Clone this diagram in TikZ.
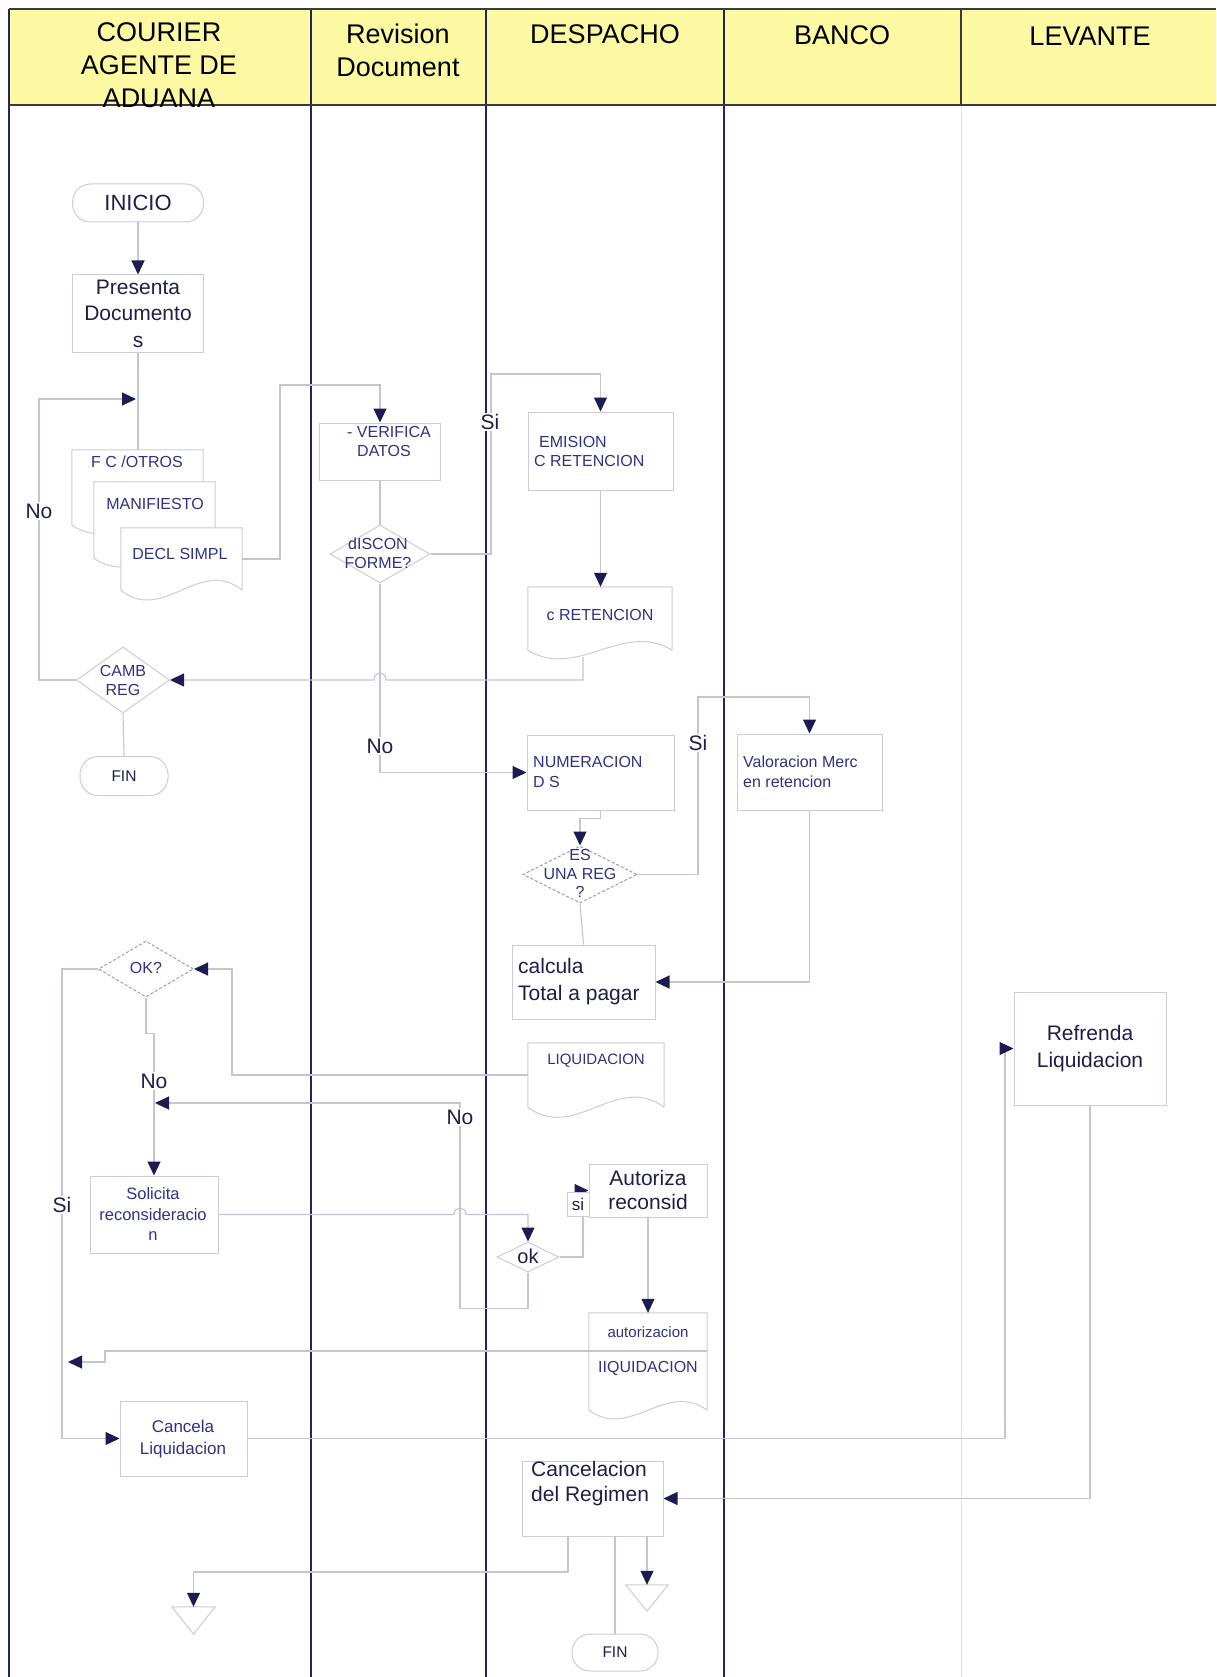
\documentclass[tikz,border=0pt]{standalone}
\usepackage{fontspec}
\setmainfont{Liberation Sans}
\usetikzlibrary{arrows.meta,shapes.geometric}
\definecolor{lanec}{HTML}{25255E}
\definecolor{hdrfill}{HTML}{FDF9A3}
\definecolor{hdrline}{HTML}{3A3A3A}
\definecolor{linec}{HTML}{C3C5D4}
\definecolor{boxc}{HTML}{CBCDD6}
\definecolor{arrc}{HTML}{1C1C55}
\definecolor{txtbig}{HTML}{1E1E4A}
\definecolor{txtsm}{HTML}{2F3283}
\definecolor{faint}{HTML}{E0E1E8}
\newcommand{\docwave}[3]{%
  \draw[draw=boxc, line width=1pt, fill=white] (#1.south east) -- (#1.north east) -- (#1.north west) -- (#1.south west)
    .. controls +(0.35*#2,#3) and +(-0.35*#2,-#3) .. (#1.south east);}
\begin{document}
\begin{tikzpicture}[x=1pt,y=-1pt,
  conn/.style={draw=linec, line width=1.1pt},
  arr/.style={conn, -{Triangle[length=14pt,width=13pt,color=arrc]}},
  box/.style={draw=boxc, line width=1pt, fill=white, inner sep=0pt},
  region/.style={inner sep=0pt},
  term/.style={box, rounded corners=18pt, text=txtbig},
  dia/.style={diamond, draw=boxc, line width=1pt, fill=white, inner sep=0pt},
  diadot/.style={dia, dash pattern=on 3pt off 2pt, draw=linec!80!black},
  tbig/.style={text=txtbig, align=center, inner sep=0pt, font=\fontsize{21}{26.5}\selectfont},
  tsm/.style={text=txtsm, align=center, inner sep=0pt, font=\fontsize{16}{19}\selectfont},
  lbl/.style={fill=white, inner sep=1.5pt, text=txtbig, font=\fontsize{21}{24}\selectfont},
  hdr/.style={text=black, align=center, inner sep=0pt, font=\fontsize{27}{33}\selectfont}]
\useasboundingbox (0,0) rectangle (1216,1677);
\fill[white] (0,0) rectangle (1216,1677);
% header
\fill[hdrfill] (9,9) rectangle (1216,105);
\draw[faint, line width=1pt] (961,105) -- (961,1677);
\draw[lanec, line width=2.2pt] (9,9) -- (9,1677) (311,9) -- (311,1677) (486,9) -- (486,1677) (724,9) -- (724,1677);
\draw[hdrline, line width=1.6pt] (961,9) -- (961,105);
\draw[hdrline, line width=2pt] (9,9) -- (1216,9) (9,105) -- (1216,105);
\node[hdr] (h1) at (159,65) {COURIER\\AGENTE DE\\ADUANA};
\node[hdr] (h2) at (398,50) {Revision\\Document};
\node[hdr] (h3) at (605,34) {DESPACHO};
\node[hdr] (h4) at (842,35) {BANCO};
\node[hdr] (h5) at (1090,36) {LEVANTE};

% ---------- column 1 top ----------
\node[term, minimum width=131, minimum height=38, font=\fontsize{22}{24}\selectfont] (inicio) at (138,203) {INICIO};
\node[box, minimum width=131, minimum height=77] (pres) at (138,313.5) {};
\node[tbig] (prest) at (138,313.5) {Presenta\\Documento\\s};
\draw[arr] (inicio.south) -- (pres.north);

\node[region, minimum width=131, minimum height=75] (fc) at (137.5,487.5) {};
\node[region, minimum width=121, minimum height=76] (man) at (154.5,520) {};
\node[region, minimum width=121, minimum height=62] (decl) at (181.5,559) {};
\draw[conn] (pres.south) -- (pres.south |- fc.north);
\docwave{fc}{131}{30}
\node[tsm] (fct) at (137,462) {F C /OTROS};
\docwave{man}{121}{30}
\node[tsm] (mant) at (155,504) {MANIFIESTO};
\docwave{decl}{121}{34}
\node[tsm] (declt) at (180,554) {DECL SIMPL};

\node[dia, minimum width=93, minimum height=66] (camb) at (123,680) {};
\node[tsm] (cambt) at (123,680) {CAMB\\REG};
\node[term, minimum width=88, minimum height=39, font=\fontsize{15.5}{18}\selectfont] (fin1) at (124,776) {FIN};
\draw[conn] (camb.south) -- (fin1.north);
\coordinate (lp) at (39,399);
\coordinate (lpin) at (136,399);
\draw[arr] (camb.west) -| (lp) -- (lpin);
\node[lbl] (no1) at (39,511) {No};

% ---------- revision ----------
\node[box, minimum width=121, minimum height=57] (verif) at (380,451.5) {};
\node[tsm, anchor=west] (verift1) at (347,432) {- VERIFICA};
\node[tsm, anchor=west] (verift2) at (357,451) {DATOS};
\coordinate (r1) at (280,385);
\draw[arr] (decl.east) -| (r1) -| (verif.north);
\node[dia, minimum width=100, minimum height=58] (disc) at (380,554) {};
\node[tsm] (disct) at (378,553) {dISCON\\FORME?};
\draw[conn] (verif.south) -- (disc.north);

% ---------- despacho ----------
\node[box, minimum width=145, minimum height=78] (emis) at (600.5,451) {};
\node[tsm, anchor=west, align=left] (emist) at (534,451) {\hspace*{5pt}EMISION\\C RETENCION};
\coordinate (r2) at (491,374);
\draw[arr] (disc.east) -| (r2) -| (emis.north);
\node[lbl] (si1) at (490,422) {Si};

\node[region, minimum width=144, minimum height=63] (cret) at (600,618.5) {};
\docwave{cret}{144}{30}
\node[tsm] (cretxt) at (600,615) {c RETENCION};
\draw[arr] (emis.south) -- (emis.south |- cret.north);

\coordinate (c1) at (583,657);
\draw[arr] (c1) -- (583,680) -- (386,680) .. controls (386,671) and (374,671) .. (374,680) -- (camb.east);

\node[box, minimum width=147, minimum height=75] (num) at (600.5,772.5) {};
\node[tsm, anchor=west, align=left, font=\fontsize{16}{20}\selectfont] (numt) at (533,772) {NUMERACION\\D S};
\draw[arr] (disc.south) |- (num.west);
\node[lbl] (no2) at (380,746) {No};

\node[diadot, minimum width=114, minimum height=57] (es) at (580,874.5) {};
\node[tsm, font=\fontsize{16}{18.5}\selectfont] (est) at (580,873.5) {ES\\UNA REG\\?};
\draw[arr] (num.south) -- ++(0,8) -| (es.north);

\node[box, minimum width=145, minimum height=76] (val) at (809.5,772) {};
\node[tsm, anchor=west, align=left, font=\fontsize{16}{20}\selectfont] (valt) at (743,772) {Valoracion Merc\\en retencion};
\coordinate (r3) at (698,697);
\draw[arr] (es.east) -| (r3) -| (val.north);
\node[lbl] (si2) at (698,743) {Si};

\node[box, minimum width=143, minimum height=74] (calc) at (583.5,982) {};
\node[tbig, anchor=west, align=left, font=\fontsize{21}{27}\selectfont] (calct) at (518,982) {calcula\\Total a pagar};
\draw[arr] (val.south) |- (calc.east);
\draw[conn] (es.south) -- (calc.north);

\node[region, minimum width=136, minimum height=64] (liq) at (596,1075) {};
\docwave{liq}{136}{35}
\node[tsm, font=\fontsize{15}{18}\selectfont] (liqt) at (596,1061) {LIQUIDACION};

% ---------- lower column 1 ----------
\node[diadot, minimum width=95, minimum height=56] (ok) at (146,969) {};
\node[tsm] (okt) at (146,968) {OK?};
\coordinate (r4) at (232,969);
\draw[arr] (liq.west) -| (r4) -- (ok.east);

\node[box, minimum width=128, minimum height=77] (sol) at (154,1214.5) {};
\node[tsm, font=\fontsize{16.5}{20.5}\selectfont] (solt) at (153,1214.5) {Solicita\\reconsideracio\\n};
\draw[arr] (ok.south) -- ++(0,36) -| (sol.north);
\node[lbl] (no3) at (154,1081) {No};

\node[dia, minimum width=62, minimum height=30] (ok2) at (528,1257) {};
\node[tbig, font=\fontsize{20}{22}\selectfont] (ok2t) at (528,1256) {ok};
\draw[arr] (sol.east) -- (454,1214.5) .. controls (454,1206) and (466,1206) .. (466,1214.5) -| (ok2.north);
\coordinate (r5) at (460,1103);
\coordinate (solin) at (155,1103);
\draw[arr] (ok2.south) -- ++(0,36) -| (r5) -- (solin);
\node[lbl] (no4) at (460,1117) {No};

\node[box, minimum width=118, minimum height=53] (auto) at (648,1190.5) {};
\node[tbig, font=\fontsize{21}{24}\selectfont] (autot) at (648,1190) {Autoriza\\reconsid};
\coordinate (r6) at (583,1190.5);
\draw[arr] (ok2.east) -| (r6) -- (auto.west);
\node[draw=boxc, fill=white, line width=0.8pt, minimum width=22, minimum height=24, inner sep=0pt, text=txtbig, font=\fontsize{17}{19}\selectfont] (silbl) at (578,1204) {si};

\node[region, minimum width=118, minimum height=97] (aliq) at (648,1361.5) {};
\docwave{aliq}{118}{30}
\node[tsm, font=\fontsize{15}{18}\selectfont] (aliqt1) at (648,1332) {autorizacion};
\node[tsm] (aliqt2) at (648,1368) {IIQUIDACION};
\draw[arr] (auto.south) -- (aliq.north);
\coordinate (al1) at (707,1351);
\coordinate (al2) at (105,1351);
\coordinate (sin) at (68,1362);
\draw[arr] (al1) -- (al2) |- (sin);

\node[box, minimum width=127, minimum height=75] (can) at (183.5,1438.5) {};
\node[tsm, font=\fontsize{17}{22}\selectfont] (cant) at (183,1439) {Cancela\\Liquidacion};
\coordinate (r7) at (62,1438.5);
\draw[arr] (ok.west) -| (r7) -- (can.west);
\node[lbl] (si3) at (62,1205) {Si};

% ---------- levante ----------
\node[box, minimum width=152, minimum height=113] (ref) at (1090,1048.5) {};
\node[tbig, font=\fontsize{21}{27}\selectfont] (reft) at (1090,1048.5) {Refrenda\\Liquidacion};
\coordinate (r8) at (1005,1048.5);
\draw[arr] (can.east) -| (r8) -- (ref.west);

\node[box, minimum width=141, minimum height=75] (canreg) at (592.5,1498.5) {};
\node[tbig, anchor=west, align=left, font=\fontsize{21}{25}\selectfont] (canregt) at (531,1484) {Cancelacion\\del Regimen};
\draw[arr] (ref.south) |- (canreg.east);

% ---------- bottom ----------
\node[region, minimum width=43, minimum height=27] (tri1) at (193.5,1620.5) {};
\draw[draw=boxc, line width=1pt] (tri1.north west) -- (tri1.north east) -- (tri1.south) -- cycle;
\node[region, minimum width=42, minimum height=26] (tri2) at (647,1598) {};
\draw[draw=boxc, line width=1pt] (tri2.north west) -- (tri2.north east) -- (tri2.south) -- cycle;
\node[term, minimum width=86, minimum height=37, font=\fontsize{15.5}{18}\selectfont] (fin2) at (615,1652.5) {FIN};
\coordinate (cb1) at (568,1536);
\coordinate (b1) at (568,1572);
\coordinate (cb2) at (615,1536);
\coordinate (cb3) at (647,1536);
\draw[arr] (cb1) -- (b1) -| (tri1.north);
\draw[conn] (cb2) -- (fin2.north);
\draw[arr] (cb3) -- (tri2.north);
\end{tikzpicture}
\end{document}
